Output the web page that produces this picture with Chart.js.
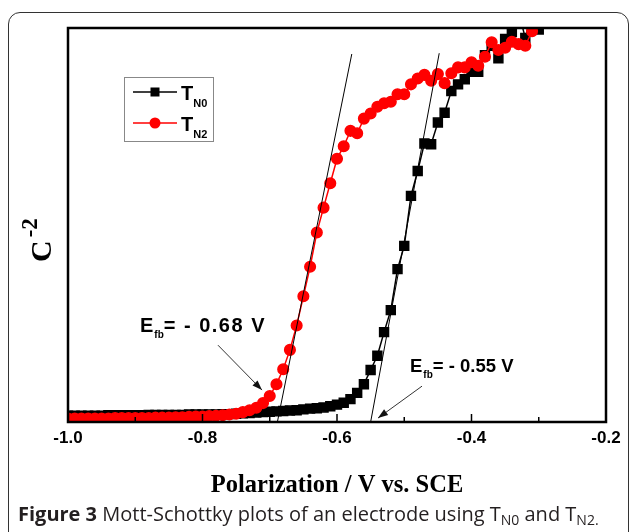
<!DOCTYPE html>
<html><head><meta charset="utf-8">
<script src="https://cdn.jsdelivr.net/npm/chart.js@4"></script>
<style>
html,body{margin:0;padding:0;background:#fff;overflow:hidden;width:629px;height:532px}
#frame{position:absolute;left:8px;top:12px;width:621px;height:540px;border:1.5px solid #333;border-radius:12px;box-sizing:border-box}
#wrap{position:absolute;left:0;top:0;width:629px;height:532px}
#cap{position:absolute;left:18px;top:502px;font-family:'Open Sans',sans-serif;font-size:20px;color:#231f20;white-space:nowrap;line-height:24px}
#cap sub{font-size:14px;vertical-align:-4px;line-height:0}
</style></head>
<body>
<div id="frame"></div>
<div id="wrap"><canvas id="c"></canvas></div>
<div id="cap"><b>Figure 3</b> Mott-Schottky plots of an electrode using T<sub>N0</sub> and T<sub>N2.</sub></div>
<script>
const potentials = [-1.00,-0.99,-0.98,-0.97,-0.96,-0.95,-0.94,-0.93,-0.92,-0.91,
  -0.90,-0.89,-0.88,-0.87,-0.86,-0.85,-0.84,-0.83,-0.82,-0.81,
  -0.80,-0.79,-0.78,-0.77,-0.76,-0.75,-0.74,-0.73,-0.72,-0.71,
  -0.70,-0.69,-0.68,-0.67,-0.66,-0.65,-0.64,-0.63,-0.62,-0.61,
  -0.60,-0.59,-0.58,-0.57,-0.56,-0.55,-0.54,-0.53,-0.52,-0.51,
  -0.50,-0.49,-0.48,-0.47,-0.46,-0.45,-0.44,-0.43,-0.42,-0.41,
  -0.40,-0.39,-0.38,-0.37,-0.36,-0.35,-0.34,-0.33,-0.32,-0.31,
  -0.30,-0.29,-0.28];
const tN0 = [1.6,1.6,1.6,1.6,1.6,1.6,1.7,1.7,1.7,1.7,
  1.7,1.7,1.8,1.8,1.8,1.8,1.8,1.8,1.9,1.9,
  1.9,1.9,1.9,2.0,2.0,2.1,2.2,2.3,2.4,2.5,
  2.6,2.7,2.8,2.9,3.0,3.2,3.4,3.5,3.7,4.0,
  4.4,4.9,5.8,7.4,9.6,13.2,16.8,22.8,28.4,38.8,
  44.7,57.4,63.7,70.7,70.5,76.0,78.5,84.0,85.7,87.0,
  88.9,88.9,93.1,95.5,92.3,97.2,99.0,104,97.5,104,
  99.6,104,106];
const tN2 = [0.9,0.9,0.9,0.9,0.9,0.9,0.9,1.0,1.0,1.0,
  1.0,1.0,1.0,1.1,1.1,1.1,1.2,1.2,1.3,1.4,
  1.4,1.5,1.6,1.7,1.9,2.1,2.5,3.0,3.6,4.8,
  6.6,9.6,13.4,18.3,24.5,31.9,39.4,48.1,54.4,60.6,
  66.8,70.0,73.9,73.3,77.0,78.3,80.0,80.9,81.3,83.2,
  83.2,85.7,87.2,88.1,86.6,88.3,86.0,88.5,90.0,90.0,
  91.3,90.4,92.7,96.4,94.4,95.0,96.5,95.9,95.5,99.2,
  102,103,104];
const xTicks = [-1.0,-0.8,-0.6,-0.4,-0.2];
const xMinorTicks = [-0.9,-0.7,-0.5,-0.3];
const tangentN0 = [[-0.550,0],[-0.448,93.6]];
const tangentN2 = [[-0.689,-0.3],[-0.578,93.4]];
const seriesNames = [['T','N0'],['T','N2']];
const xTitle = 'Polarization / V vs. SCE';
const annotations = [
  {label:'= - 0.68 V', size:20, spacing:1.5, at:[-0.893,22.8], from:[-0.777,19.5], to:[-0.7115,8.1]},
  {label:'= - 0.55 V', size:18.5, spacing:0, at:[-0.4915,12.7], from:[-0.4736,9.1], to:[-0.539,1.0]}
];

const pts = (ys) => potentials.map((x,i)=>({x:x,y:ys[i]}));
const toXY = (arr) => arr.map(p=>({x:p[0],y:p[1]}));

const deco = {
  id:'deco',
  afterDatasetsDraw(chart){
    const {ctx, chartArea:a, scales:{x,y}} = chart;
    ctx.save();
    ctx.strokeStyle='#000'; ctx.lineWidth=2.5;
    ctx.strokeRect(a.left,a.top,a.right-a.left,a.bottom-a.top);
    ctx.lineWidth=1.5;
    xTicks.forEach(v=>{const px=x.getPixelForValue(v);ctx.beginPath();ctx.moveTo(px,a.bottom);ctx.lineTo(px,a.bottom-8);ctx.stroke();});
    xMinorTicks.forEach(v=>{const px=x.getPixelForValue(v);ctx.beginPath();ctx.moveTo(px,a.bottom);ctx.lineTo(px,a.bottom-5);ctx.stroke();});
    annotations.forEach(an=>{
      const fx=x.getPixelForValue(an.from[0]), fy=y.getPixelForValue(an.from[1]);
      const tx=x.getPixelForValue(an.to[0]), ty=y.getPixelForValue(an.to[1]);
      ctx.strokeStyle='#333'; ctx.lineWidth=1;
      ctx.beginPath();ctx.moveTo(fx,fy);ctx.lineTo(tx,ty);ctx.stroke();
      const ang=Math.atan2(ty-fy,tx-fx), L=10, W=3.5;
      ctx.fillStyle='#111';
      ctx.beginPath();
      ctx.moveTo(tx,ty);
      ctx.lineTo(tx-L*Math.cos(ang)+W*Math.sin(ang), ty-L*Math.sin(ang)-W*Math.cos(ang));
      ctx.lineTo(tx-L*Math.cos(ang)-W*Math.sin(ang), ty-L*Math.sin(ang)+W*Math.cos(ang));
      ctx.closePath();ctx.fill();
      const lx=x.getPixelForValue(an.at[0]), ly=y.getPixelForValue(an.at[1]);
      ctx.fillStyle='#000'; ctx.textBaseline='alphabetic'; ctx.textAlign='left';
      ctx.font='bold '+an.size+'px Arial, "Liberation Sans"';
      ctx.fillText('E',lx,ly);
      let w=ctx.measureText('E').width;
      ctx.font='bold 10px Arial, "Liberation Sans"';
      ctx.fillText('fb',lx+w+1,ly+6);
      const w2=ctx.measureText('fb').width;
      ctx.font='bold '+an.size+'px Arial, "Liberation Sans"';
      ctx.letterSpacing=an.spacing+'px';
      ctx.fillText(an.label,lx+w+w2+1,ly);
      ctx.letterSpacing='0px';
    });
    const bx=a.left+56, by=a.top+49, bw=89, bh=64;
    ctx.strokeStyle='#888'; ctx.lineWidth=1;
    ctx.strokeRect(bx+0.5,by+0.5,bw,bh);
    chart.data.datasets.slice(0,2).forEach((ds,i)=>{
      const ry = by + 15 + i*31;
      ctx.strokeStyle=ds.borderColor; ctx.lineWidth=1.5;
      ctx.beginPath();ctx.moveTo(bx+9,ry);ctx.lineTo(bx+53,ry);ctx.stroke();
      ctx.fillStyle=ds.backgroundColor;
      if(ds.pointStyle==='rect'){ctx.fillRect(bx+31-4.5,ry-4.5,9,9);}
      else {ctx.beginPath();ctx.arc(bx+31,ry,5.5,0,Math.PI*2);ctx.fill();}
      const nm=seriesNames[i];
      ctx.fillStyle='#000';
      ctx.font='bold 20px Arial, "Liberation Sans"';
      ctx.fillText(nm[0],bx+57,ry+8);
      const tw=ctx.measureText(nm[0]).width;
      ctx.font='bold 11px Arial, "Liberation Sans"';
      ctx.fillText(nm[1],bx+57+tw+0,ry+15);
    });
    ctx.fillStyle='#000';
    ctx.font='bold 24.5px "Liberation Serif","Times New Roman",serif';
    ctx.textAlign='center';
    ctx.fillText(xTitle,(a.left+a.right)/2,a.bottom+70);
    ctx.save();
    ctx.translate(a.left-17,(a.top+a.bottom)/2+37);
    ctx.rotate(-Math.PI/2);
    ctx.textAlign='left';
    ctx.font='bold 30px "Liberation Serif","Times New Roman",serif';
    ctx.fillText('C',0,0);
    const cw=ctx.measureText('C').width;
    ctx.font='bold 23px "Liberation Serif","Times New Roman",serif';
    ctx.fillText('-2',cw+3,-14);
    ctx.restore();
    ctx.restore();
  }
};

new Chart(document.getElementById('c'),{
  type:'scatter',
  data:{datasets:[
    {label:'TN0',data:pts(tN0),showLine:true,borderColor:'#000',backgroundColor:'#000',borderWidth:1.5,pointStyle:'rect',pointRadius:6.3,pointHoverRadius:6.3,order:1},
    {label:'TN2',data:pts(tN2),showLine:true,borderColor:'#ff0000',backgroundColor:'#ff0000',borderWidth:1.5,pointStyle:'circle',pointRadius:5.3,pointHoverRadius:5.3,order:0},
    {label:'fitN0',data:toXY(tangentN0),showLine:true,borderColor:'#000',borderWidth:1,pointRadius:0,order:-1},
    {label:'fitN2',data:toXY(tangentN2),showLine:true,borderColor:'#000',borderWidth:1,pointRadius:0,order:-1}
  ]},
  options:{
    responsive:true,maintainAspectRatio:false,animation:false,
    events:[],
    layout:{padding:{left:68,right:23,top:28,bottom:0}},
    plugins:{legend:{display:false},tooltip:{enabled:false}},
    scales:{
      x:{type:'linear',min:-1.0,max:-0.2,
        grid:{display:false,drawTicks:false},border:{display:false},
        afterBuildTicks(s){s.ticks=xTicks.map(v=>({value:v}));},
        afterFit(s){s.height=110;},
        ticks:{color:'#000',padding:6,font:{family:'Arial, "Liberation Sans"',size:17,weight:'bold'},callback:(v)=>Number(v).toFixed(1),maxRotation:0,autoSkip:false}
      },
      y:{type:'linear',min:0,max:100,display:false}
    }
  },
  plugins:[deco]
});
</script>
</body></html>
